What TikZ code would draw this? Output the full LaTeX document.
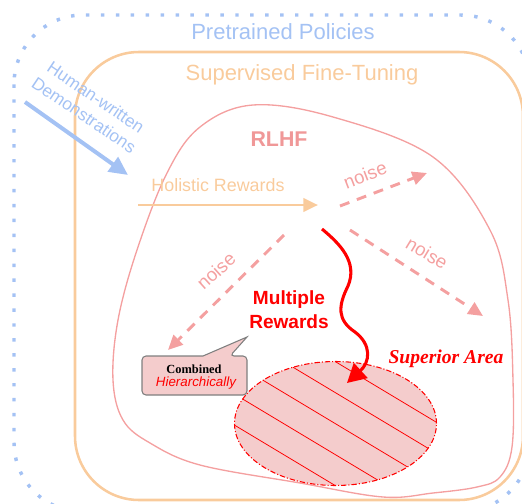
\documentclass[tikz,border=0pt]{standalone}
\usepackage{fontspec}
\setmainfont{Liberation Serif}
\setsansfont{Liberation Sans}
\usetikzlibrary{arrows.meta,shapes.geometric}
\definecolor{cblue}{HTML}{A4C2F4}
\definecolor{corange}{HTML}{F9CB9C}
\definecolor{cpink}{HTML}{F4A0A0}
\definecolor{crlhf}{HTML}{F09898}
\definecolor{cfill}{HTML}{F4CCCC}
\definecolor{cred}{HTML}{FF0000}
\definecolor{cgray}{HTML}{7F7F7F}
\tikzset{
  dotbox/.style={draw=cblue, line width=2.6pt, dash pattern=on 2.6pt off 8.6pt, rounded corners=52pt},
  sftbox/.style={draw=corange, line width=1.9pt, rounded corners=48pt},
  blob/.style={draw=cpink, line width=1pt},
  noisearrow/.style={draw=cpink, line width=2.2pt, dash pattern=on 7.5pt off 6pt, -{Triangle[length=11pt,width=10pt]}},
  noiselbl/.style={text=cpink, font=\sffamily\fontsize{14}{16}\selectfont, inner sep=0pt},
  title/.style={font=\sffamily\fontsize{16.5}{19}\selectfont, inner sep=0pt},
}
\begin{document}
\begin{tikzpicture}[x=0.75pt,y=-0.75pt]
\useasboundingbox (0,0) rectangle (522,504);
\clip (0,0) rectangle (522,504);
% outer dotted box
\draw[dotbox] (14,15) rectangle (530,512);
\node[title, text=cblue] (pre) at (283,32) {Pretrained Policies};
% SFT box
\draw[sftbox] (75,52) rectangle (523,500);
\node[title, text=corange] (sft) at (302,75) {Supervised Fine-Tuning};
% RLHF blob
\draw[blob] plot[smooth cycle, tension=0.6] coordinates {(113,380) (118,320) (137,250) (167,173) (200,127) (253,105) (333,117) (433,157) (490,230) (508,300) (513,380) (512,447) (500,477) (477,487) (433,493) (383,497) (300,483) (200,465) (150,443) (123,420)};
\node[font=\sffamily\bfseries\fontsize{16}{19}\selectfont, text=crlhf, inner sep=0pt] (rlhf) at (279,139) {RLHF};
% human-written arrow
\coordinate (h0) at (25,102);
\coordinate (h1) at (128,175);
\draw[cblue, line width=3pt, -{Triangle[length=14pt,width=13pt]}] (h0) -- (h1);
\node[text=cblue, font=\sffamily\fontsize{13}{16}\selectfont, align=center, rotate=-34, inner sep=0pt] (hw) at (90,106) {Human-written\\Demonstrations};
% holistic rewards
\coordinate (r0) at (138,205);
\coordinate (r1) at (318,205);
\draw[corange, line width=2.2pt, -{Triangle[length=11pt,width=10pt]}] (r0) -- (r1);
\node[text=corange, font=\sffamily\fontsize{13.4}{16}\selectfont, inner sep=0pt] (hol) at (218,185) {Holistic Rewards};
% noise arrows
\coordinate (n1a) at (340,206);
\coordinate (n1b) at (427,173);
\coordinate (n2a) at (350,230);
\coordinate (n2b) at (483,316);
\coordinate (n3a) at (284,235);
\coordinate (n3b) at (168,350);
\draw[noisearrow] (n1a) -- (n1b);
\draw[noisearrow] (n2a) -- (n2b);
\draw[noisearrow] (n3a) -- (n3b);
\node[noiselbl, rotate=21] (nl1) at (365,175) {noise};
\node[noiselbl, rotate=-31] (nl2) at (427,253) {noise};
\node[noiselbl, rotate=42] (nl3) at (216,271) {noise};
% ellipse superior area
\begin{scope}
\clip (335.5,423.5) ellipse [x radius=101, y radius=62];
\fill[cfill] (335.5,423.5) ellipse [x radius=101, y radius=62];
\foreach \k in {0,...,5} {
  \draw[cred, line width=0.6pt] (200,{425+0.6*(200-234.3)-31*\k}) -- (470,{425+0.6*(470-234.3)-31*\k});
}
\end{scope}
\node[draw=cred, line width=0.8pt, dash pattern=on 4pt off 1.5pt on 0.8pt off 1.5pt, ellipse, minimum width=151.5pt, minimum height=93pt, inner sep=0pt] (sup) at (335.5,423.5) {};
\node[text=cred, font=\rmfamily\bfseries\itshape\fontsize{14.7}{17}\selectfont, inner sep=0pt] (supl) at (446,359) {Superior Area};
% multiple rewards wavy arrow
\coordinate (w0) at (322,229);
\coordinate (w1) at (347,383);
\draw[cred, line width=2.3pt, -{Triangle[length=14pt,width=15pt]}] (w0) .. controls (340,244) and (358,262) .. (348,286) .. controls (338,306) and (337,320) .. (355,332) .. controls (372,345) and (370,362) .. (w1);
\node[text=cred, font=\sffamily\bfseries\fontsize{14.3}{18}\selectfont, align=center, inner sep=0pt] (mr) at (289,310) {Multiple\\Rewards};
% callout
\draw[fill=cfill, draw=cgray, line width=0.8pt] (175,356) [rounded corners=3pt] -- (142,356) -- (142,395) -- (247,395) -- (247,356) -- (230,356) [sharp corners] -- (247,337) -- (203,356) -- cycle;
\node[font=\rmfamily\bfseries\fontsize{9.3}{11}\selectfont, inner sep=0pt] (comb) at (194,369) {Combined};
\node[text=cred, font=\sffamily\itshape\fontsize{10}{12}\selectfont, inner sep=0pt] (hier) at (196,383) {Hierarchically};
\end{tikzpicture}
\end{document}
